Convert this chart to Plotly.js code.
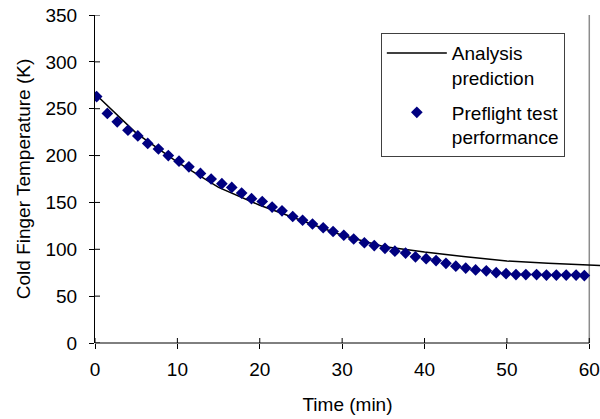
<!DOCTYPE html>
<html>
<head>
<meta charset="utf-8">
<script src="https://cdn.plot.ly/plotly-3.0.1.min.js"></script>
<style>
html,body{margin:0;padding:0;background:#fff;}
#chart{width:600px;height:419px;}
</style>
</head>
<body>
<div id="chart"></div>
<script>
// Analysis prediction (line)
const predTime = [0, 5, 10, 15, 20, 25, 30, 35, 40, 45, 50, 55, 60, 62];
const predTemp = [266, 224, 193, 166, 147, 131, 115, 103, 97, 92, 87.5, 85, 83, 82.3];

// Preflight test performance (diamonds)
const testTime = [0.2, 1.5, 2.7, 4.0, 5.2, 6.4, 7.7, 8.9, 10.2, 11.4, 12.8, 14.1, 15.4, 16.6, 17.8,
  19.0, 20.3, 21.5, 22.7, 24.0, 25.2, 26.4, 27.7, 28.9, 30.2, 31.4, 32.7, 33.9, 35.2, 36.4, 37.7,
  38.9, 40.2, 41.4, 42.6, 43.8, 45.0, 46.2, 47.5, 48.7, 49.9, 51.1, 52.3, 53.6, 54.8, 56.0, 57.2,
  58.4, 59.4];
const testTemp = [263, 245, 236, 227, 221, 213, 207, 200, 194, 188, 181, 175, 170, 166, 160,
  154, 151, 145, 141, 135, 131, 127, 123, 119, 115, 111, 107, 104, 101, 98, 96,
  92, 90, 88, 85, 82, 80, 78, 77, 75, 74, 73, 73, 73, 72.5, 72.5, 72.5,
  72.5, 72];

const xTickVals = [0, 10, 20, 30, 40, 50, 60];
const yTickVals = [0, 50, 100, 150, 200, 250, 300, 350];

const names = ['Analysis<br>prediction', 'Preflight test<br>performance'];
const xTitle = 'Time (min)';
const yTitle = 'Cold Finger Temperature (K)';

const FONT = 'Liberation Sans, Arial, sans-serif';
const FS = 19;

const W = 600, H = 419;
const M = {l: 95, r: 0, t: 15, b: 76};
const plotW = W - M.l - M.r, plotH = H - M.t - M.b;
const TICK = 5;

const xRange = [0, 61.3];
const yRange = [0, 350];

const traces = [
  {
    x: predTime, y: predTemp, name: names[0], type: 'scatter', mode: 'lines',
    legendgroup: 'pred',
    line: {color: '#000000', width: 1.5}
  },
  {
    x: testTime, y: testTemp, name: names[1], type: 'scatter', mode: 'markers',
    legendgroup: 'test',
    marker: {symbol: 'diamond', color: '#000080', size: 9, line: {width: 0}}
  }
];

// inner halves of the cross-style tick marks
const innerTicks = [];
xTickVals.forEach(v => innerTicks.push({
  type: 'line', xref: 'x', yref: 'paper', x0: v, x1: v, y0: 0, y1: TICK / plotH,
  line: {color: '#000000', width: 1}
}));
yTickVals.forEach(v => innerTicks.push({
  type: 'line', xref: 'paper', yref: 'y', x0: 0, x1: TICK / plotW, y0: v, y1: v,
  line: {color: '#000000', width: 1}
}));

const layout = {
  width: W, height: H,
  margin: M,
  paper_bgcolor: '#ffffff', plot_bgcolor: '#ffffff',
  font: {family: FONT, size: FS, color: '#000000'},
  showlegend: true,
  legend: {
    x: 0.566, y: 0.945, xanchor: 'left', yanchor: 'top',
    bgcolor: '#ffffff', bordercolor: '#404040', borderwidth: 1,
    font: {family: FONT, size: FS, color: '#000000'},
    valign: 'top', tracegroupgap: 7, itemwidth: 60
  },
  xaxis: {
    range: xRange, tickvals: xTickVals, ticktext: xTickVals.map(String),
    ticks: 'outside', ticklen: TICK, tickcolor: '#000', tickwidth: 1,
    showline: false, showgrid: false, zeroline: false,
    ticklabelstandoff: 4,
    tickfont: {family: FONT, size: FS},
    title: {text: xTitle, font: {family: FONT, size: FS}, standoff: 18}
  },
  yaxis: {
    range: yRange, tickvals: yTickVals, ticktext: yTickVals.map(String),
    ticks: 'outside', ticklen: TICK, tickcolor: '#000', tickwidth: 1,
    showline: true, linecolor: '#000', linewidth: 1,
    showgrid: false, zeroline: false,
    ticklabelstandoff: 8,
    tickfont: {family: FONT, size: FS},
    title: {text: yTitle, font: {family: FONT, size: FS}, standoff: 9}
  },
  shapes: [
    {type: 'line', xref: 'x', yref: 'paper', x0: 0, x1: 60, y0: 0, y1: 0,
     line: {color: '#000000', width: 1}},
    {type: 'line', xref: 'x', yref: 'paper', x0: 60, x1: 60, y0: 0, y1: 1,
     line: {color: '#8c8c8c', width: 1.5}, layer: 'below'}
  ].concat(innerTicks)
};

Plotly.newPlot('chart', traces, layout, {staticPlot: true, displayModeBar: false});
</script>
</body>
</html>
